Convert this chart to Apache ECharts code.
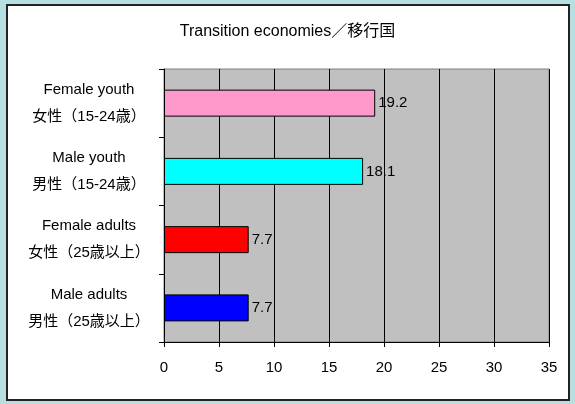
<!DOCTYPE html>
<html>
<head>
<meta charset="utf-8">
<script src="https://cdn.jsdelivr.net/npm/echarts@6/dist/echarts.min.js"></script>
<style>
html,body{margin:0;padding:0;background:#b8dfe0;}
#chart{width:575px;height:404px;}
</style>
</head>
<body>
<div id="chart"></div>
<script>
const titleText = 'Transition economies／移行国';
const categories = ['Female youth\n女性（15-24歳）', 'Male youth\n男性（15-24歳）', 'Female adults\n女性（25歳以上）', 'Male adults\n男性（25歳以上）'];
const values = [19.2, 18.1, 7.7, 7.7];
const barColors = ['#ff99cc', '#00ffff', '#ff0000', '#0000ff'];
const xTicks = [0, 5, 10, 15, 20, 25, 30, 35];

const FONT = '"Liberation Sans", "Noto Sans CJK JP", sans-serif';
const chart = echarts.init(document.getElementById('chart'));
chart.setOption({
  backgroundColor: '#b8dfe0',
  animation: false,
  graphic: [{
    type: 'rect', z: -10,
    shape: { x: 7, y: 5, width: 562, height: 395 },
    style: { fill: '#ffffff', stroke: '#222222', lineWidth: 2 }
  }],
  title: {
    text: titleText, left: 'center', top: 19,
    textStyle: { fontFamily: FONT, fontSize: 16, fontWeight: 'normal', color: '#000' }
  },
  grid: {
    left: 164, right: 26, top: 69, bottom: 62,
    show: true, backgroundColor: '#c0c0c0', borderColor: '#808080', borderWidth: 1
  },
  xAxis: {
    type: 'value', min: xTicks[0], max: xTicks[xTicks.length - 1], interval: 5,
    axisLine: { show: true, lineStyle: { color: '#000', width: 1 } },
    axisTick: { show: true, length: 5, lineStyle: { color: '#000' } },
    axisLabel: { color: '#000', fontFamily: FONT, fontSize: 15, margin: 18 },
    splitLine: { show: true, lineStyle: { color: '#000', width: 1 } }
  },
  yAxis: {
    type: 'category', data: categories, inverse: true,
    axisLine: { show: true, lineStyle: { color: '#000', width: 1 } },
    axisTick: { show: true, length: 5, lineStyle: { color: '#000' } },
    axisLabel: { color: '#000', fontFamily: FONT, fontSize: 15, lineHeight: 27, align: 'center', margin: 75 }
  },
  series: [{
    type: 'bar', barWidth: 27,
    data: values.map((v, i) => ({ value: v, itemStyle: { color: barColors[i] } })),
    itemStyle: { borderColor: '#000', borderWidth: 1 },
    label: {
      show: true, position: 'right', distance: 3, color: '#000',
      fontFamily: FONT, fontSize: 15,
      formatter: p => p.value.toFixed(1)
    }
  }]
});
</script>
</body>
</html>
